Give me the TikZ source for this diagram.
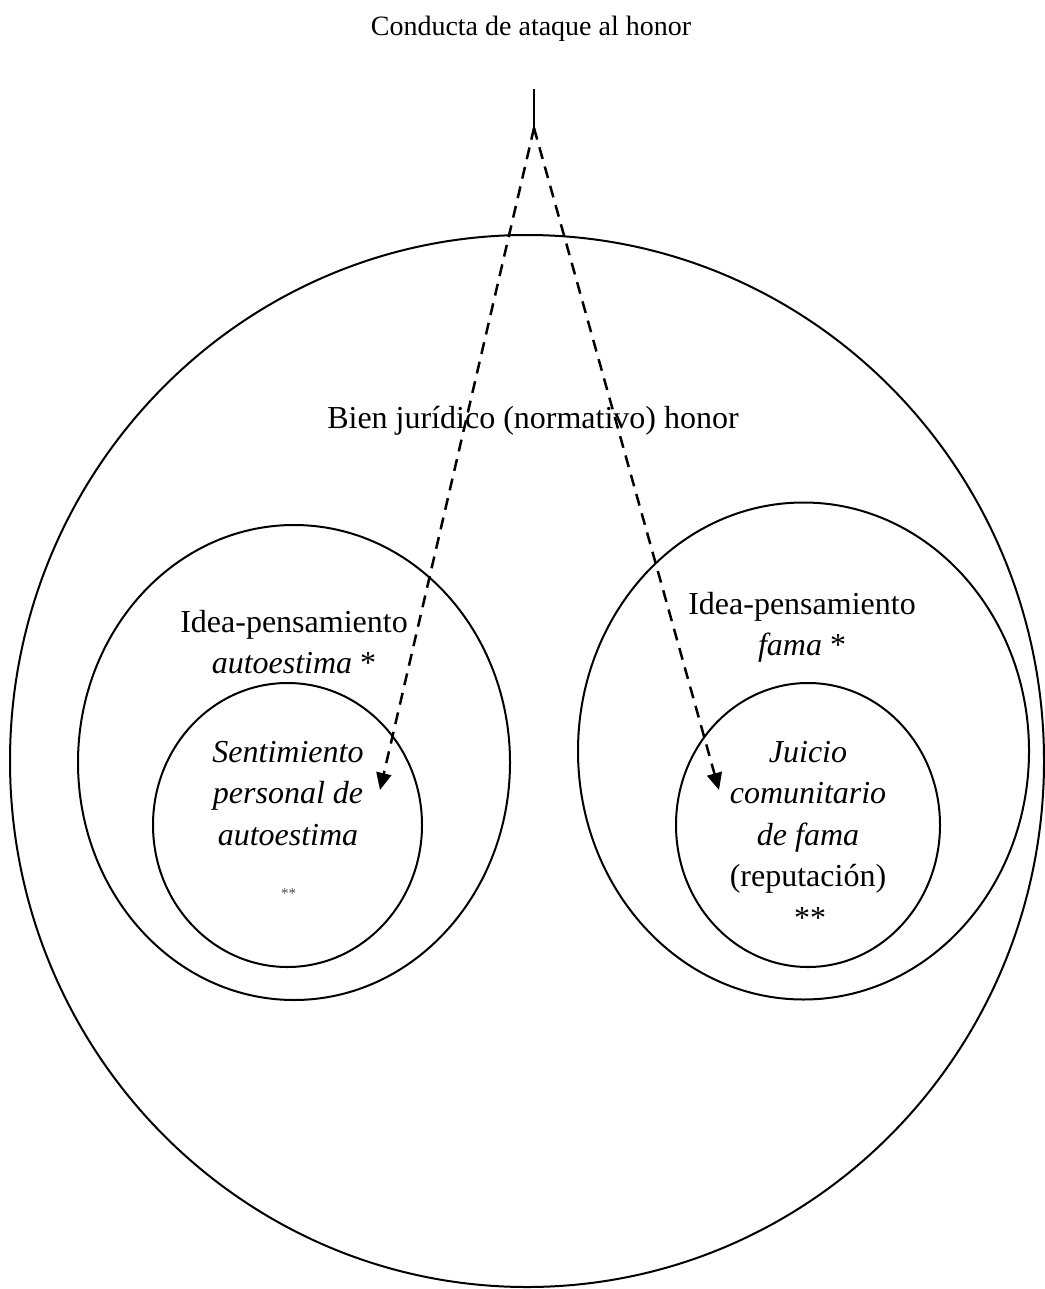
\documentclass[tikz,border=0pt]{standalone}
\usepackage{fontspec}
\setmainfont{Liberation Serif}
\usetikzlibrary{shapes.geometric,arrows.meta}
\tikzset{
  ring/.style={draw, ellipse, line width=2pt, inner sep=0pt, minimum width=#1},
  lbl/.style={anchor=base, inner sep=0pt, font=\fontsize{32}{41}\selectfont},
  titlelbl/.style={anchor=base, inner sep=0pt, font=\fontsize{28}{34}\selectfont},
  smalllbl/.style={anchor=base, inner sep=0pt, font=\fontsize{15}{18}\selectfont, text=black!70},
  attack/.style={line width=2.5pt, dash pattern=on 12pt off 8pt, -{Triangle[length=17pt,width=15pt]}},
  stem/.style={line width=2.2pt}
}
\begin{document}
\begin{tikzpicture}[x=1pt,y=-1pt]
\useasboundingbox (0,0) rectangle (1044,1289);
% ellipses
\node[ring=1034pt, minimum height=1052pt] (big) at (527,761) {};
\node[ring=432pt, minimum height=475pt] (leftmid) at (294,762.5) {};
\node[ring=451pt, minimum height=497pt] (rightmid) at (803.5,751) {};
\node[ring=269pt, minimum height=284pt] (leftin) at (287.5,825) {};
\node[ring=264pt, minimum height=284pt] (rightin) at (808,825) {};
% texts
\node[titlelbl] (title) at (531,36) {Conducta de ataque al honor};
\node[lbl] (bien) at (533,428) {Bien jurídico (normativo) honor};
\node[lbl] (lidea) at (294,632) {Idea-pensamiento};
\node[lbl] (lauto) at (294,673) {\itshape autoestima\/ \upshape *};
\node[lbl] (ridea) at (802,614) {Idea-pensamiento};
\node[lbl] (rfama) at (802,655) {\itshape fama\/ \upshape *};
\node[lbl] (sent) at (288,762) {\itshape Sentimiento};
\node[lbl] (pers) at (288,803) {\itshape personal de};
\node[lbl] (autoin) at (288,845) {\itshape autoestima};
\node[smalllbl] (lstars) at (288.5,898) {**};
\node[lbl] (juicio) at (808,762) {\itshape Juicio};
\node[lbl] (comu) at (808,803) {\itshape comunitario};
\node[lbl] (defama) at (808,845) {\itshape de fama};
\node[lbl] (repu) at (808,886) {(reputación)};
\node[lbl] (rstars) at (810,928) {**};
% connectors
\coordinate (top) at (534,89);
\coordinate (apex) at (534,128);
\coordinate (ltip) at (380,790);
\coordinate (rtip) at (719,790);
\draw[stem] (top) -- (apex);
\draw[attack] (apex) -- (ltip);
\draw[attack] (apex) -- (rtip);
\end{tikzpicture}
\end{document}
